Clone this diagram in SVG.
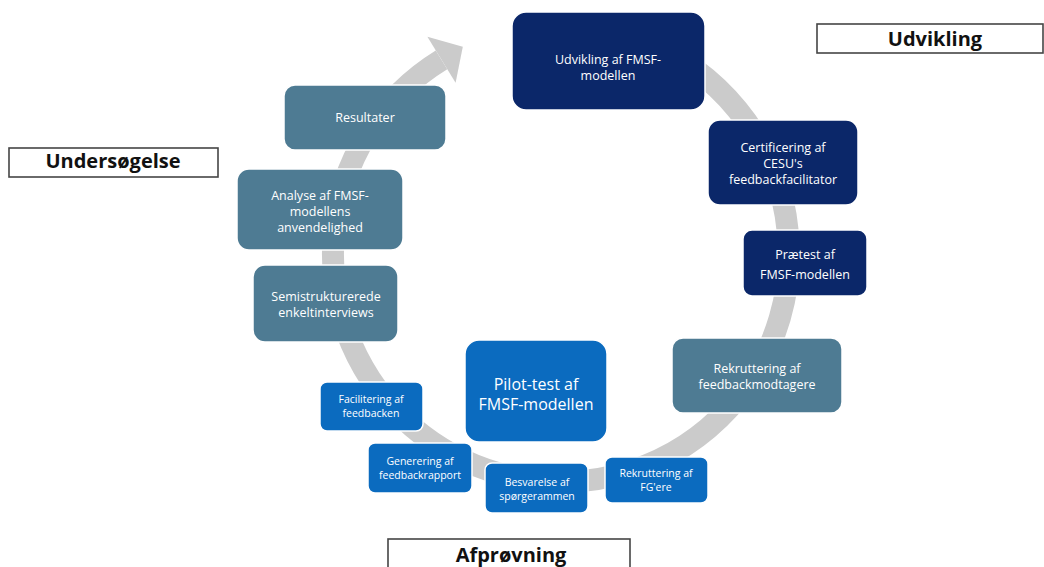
<svg xmlns="http://www.w3.org/2000/svg" width="1044" height="567" viewBox="0 0 1044 567">
<style>
.navy{fill:#0b2769;stroke:#ffffff;stroke-width:1.5}
.steel{fill:#4e7b93;stroke:#ffffff;stroke-width:1.5}
.bright{fill:#0b6bbf;stroke:#ffffff;stroke-width:1.5}
.t{font-family:"Open Sans","Liberation Sans",sans-serif;fill:#ffffff;text-anchor:middle}
.s13{font-size:12.5px}
.s11{font-size:10.5px}
.s16{font-size:16px}
.hdr{fill:#ffffff;stroke:#454545;stroke-width:1.6}
.ht{font-family:"Open Sans","Liberation Sans",sans-serif;font-weight:bold;font-size:20px;fill:#111111;text-anchor:middle}
</style>
<rect width="1044" height="567" fill="#ffffff"/>
<g id="connectors">
<path d="M 541.9 26.8 A 228 228 0 1 1 441.5 59.8" fill="none" stroke="#cbcbcb" stroke-width="22"/>
<polygon points="427.4,36.8 462.8,46.7 455.6,82.8" fill="#cbcbcb"/>
</g>
<g id="label-udvikling">
<rect class="hdr" x="817" y="24" width="226" height="29"/>
<text class="ht" x="935" y="46">Udvikling</text>
</g>
<g id="label-undersogelse">
<rect class="hdr" x="9" y="148" width="209" height="29"/>
<text class="ht" x="113" y="168">Undersøgelse</text>
</g>
<g id="label-afprovning">
<rect class="hdr" x="388" y="539" width="242" height="40"/>
<text class="ht" x="511" y="562">Afprøvning</text>
</g>
<g id="n-udvikling">
<rect class="navy" x="512" y="12" width="193" height="98" rx="14"/>
<text class="t s13" x="608" y="64">Udvikling af FMSF-</text>
<text class="t s13" x="608" y="80">modellen</text>
</g>
<g id="n-certificering">
<rect class="navy" x="708" y="120" width="150" height="85" rx="12"/>
<text class="t s13" x="783" y="152">Certificering af</text>
<text class="t s13" x="783" y="168">CESU's</text>
<text class="t s13" x="783" y="184">feedbackfacilitator</text>
</g>
<g id="n-praetest">
<rect class="navy" x="743" y="230" width="124" height="66" rx="9"/>
<text class="t s13" x="805" y="259">Prætest af</text>
<text class="t s13" x="805" y="279">FMSF-modellen</text>
</g>
<g id="n-rekruttering-modtagere">
<rect class="steel" x="672" y="338" width="170" height="75" rx="11"/>
<text class="t s13" x="757" y="373">Rekruttering af</text>
<text class="t s13" x="757" y="389">feedbackmodtagere</text>
</g>
<g id="n-rekruttering-fg">
<rect class="bright" x="605" y="457" width="103" height="46" rx="7"/>
<text class="t s11" x="656" y="477">Rekruttering af</text>
<text class="t s11" x="656" y="491">FG'ere</text>
</g>
<g id="n-besvarelse">
<rect class="bright" x="485" y="463" width="103" height="50" rx="7"/>
<text class="t s11" x="537" y="486">Besvarelse af</text>
<text class="t s11" x="537" y="500">spørgerammen</text>
</g>
<g id="n-generering">
<rect class="bright" x="368" y="443" width="104" height="50" rx="7"/>
<text class="t s11" x="420" y="465">Generering af</text>
<text class="t s11" x="420" y="479">feedbackrapport</text>
</g>
<g id="n-facilitering">
<rect class="bright" x="320" y="382" width="103" height="49" rx="7"/>
<text class="t s11" x="371" y="403">Facilitering af</text>
<text class="t s11" x="371" y="417">feedbacken</text>
</g>
<g id="n-pilot">
<rect class="bright" x="465" y="340" width="142" height="102" rx="14"/>
<text class="t s16" x="536" y="390">Pilot-test af</text>
<text class="t s16" x="536" y="410">FMSF-modellen</text>
</g>
<g id="n-semistrukturerede">
<rect class="steel" x="253" y="265" width="145" height="77" rx="12"/>
<text class="t s13" x="326" y="301">Semistrukturerede</text>
<text class="t s13" x="326" y="317">enkeltinterviews</text>
</g>
<g id="n-analyse">
<rect class="steel" x="237" y="169" width="166" height="81" rx="12"/>
<text class="t s13" x="320" y="200">Analyse af FMSF-</text>
<text class="t s13" x="320" y="216">modellens</text>
<text class="t s13" x="320" y="232">anvendelighed</text>
</g>
<g id="n-resultater">
<rect class="steel" x="284" y="85" width="162" height="65" rx="11"/>
<text class="t s13" x="365" y="122">Resultater</text>
</g>
</svg>
